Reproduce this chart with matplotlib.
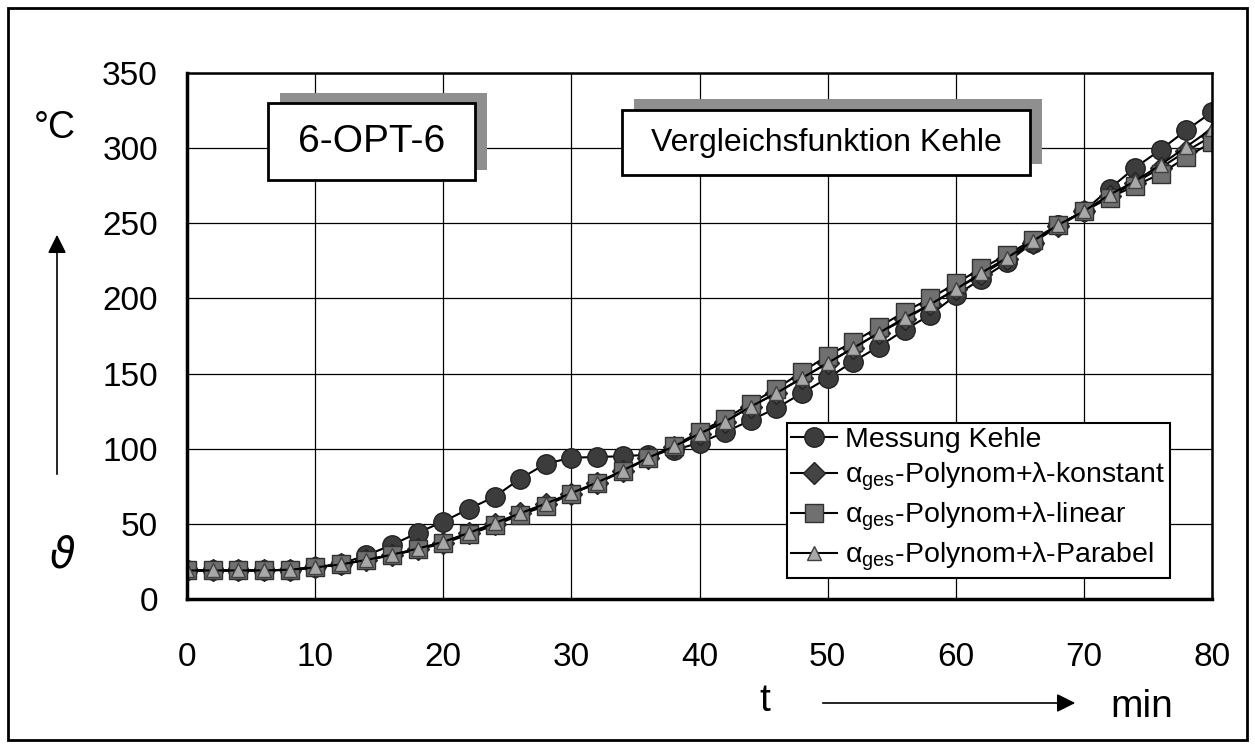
import matplotlib
matplotlib.use("Agg")
import matplotlib.pyplot as plt
from matplotlib.patches import Rectangle

plt.rcParams['font.family'] = ['Liberation Sans', 'DejaVu Sans']

# Zeit in min, Temperatur in °C
t = list(range(0, 82, 2))
messung = [19, 19, 19, 19, 19.5, 21, 23.5, 29, 36, 44, 51.5, 60, 68, 80, 90, 94, 94.5, 95, 96, 99,
           104, 111, 119, 127, 137, 147, 158, 168, 179, 189, 202, 213, 224, 237, 249, 258, 273, 287, 299, 312, 324]
konstant = [19, 19, 19, 19, 19.5, 21, 23, 26, 29.5, 33, 37.5, 44, 50, 57, 63, 70, 77, 85, 93.5, 101,
            110, 118, 128, 137, 147, 157, 167, 177, 186, 196, 206, 216, 226, 237, 248, 258, 268, 277, 287, 298, 308]
linear = [19, 19, 19, 19, 19.5, 21, 23, 26, 29, 33, 37, 43, 49, 56, 62, 70, 77, 85, 94, 102,
          111, 120, 130, 140, 151, 162, 171, 181, 191, 200, 210, 220, 229, 239, 249, 258, 267, 275, 283, 294, 304]
parabel = [19, 19, 19, 19, 19.5, 21, 23, 26, 29.5, 33.5, 38, 44, 50.5, 57, 63.5, 70.5, 77.5, 85.5, 94, 101.5,
           110, 118, 128, 137, 147, 157, 167, 177, 187, 196, 206, 217, 227, 238, 249, 258, 269, 278, 289, 301, 313]
labels = ['Messung Kehle',
          r'α$_{\mathregular{ges}}$-Polynom+λ-konstant',
          r'α$_{\mathregular{ges}}$-Polynom+λ-linear',
          r'α$_{\mathregular{ges}}$-Polynom+λ-Parabel']
xticks = [0, 10, 20, 30, 40, 50, 60, 70, 80]
yticks = [0, 50, 100, 150, 200, 250, 300, 350]

W, H = 1255, 747


def fx(px):
    return px / W


def fy(py):
    return 1 - py / H


def box(fig, x0, y0, x1, y1, dx, dy, text, size):
    # Schatten hinter dem Kasten
    fig.add_artist(Rectangle((fx(x0 + dx), fy(y1 + dy)), fx(x1 - x0), (y1 - y0) / H,
                             transform=fig.transFigure, facecolor='#8f8f8f', edgecolor='none', zorder=5))
    fig.add_artist(Rectangle((fx(x0), fy(y1)), fx(x1 - x0), (y1 - y0) / H,
                             transform=fig.transFigure, facecolor='white', edgecolor='black', lw=2, zorder=6))
    fig.text(fx((x0 + x1) / 2), fy((y0 + y1) / 2), text, fontsize=size, ha='center', va='center', zorder=7)


fig = plt.figure(figsize=(12.55, 7.47), dpi=100)
ax = fig.add_axes([fx(187), fy(599), fx(1212 - 187), (599 - 73) / H])

ax.plot(t, messung, '-o', color='black', lw=1.5, ms=14, mfc='#3c3c3c', mec='#222222', label=labels[0])
ax.plot(t, konstant, '-D', color='black', lw=1.5, ms=11, mfc='#444444', mec='#222222', label=labels[1])
ax.plot(t, linear, '-s', color='black', lw=1.5, ms=12.5, mfc='#707070', mec='#303030', label=labels[2])
ax.plot(t, parabel, '-^', color='black', lw=1.5, ms=9.5, mfc='#a8a8a8', mec='#404040', label=labels[3])

ax.set_xlim(0, 80)
ax.set_ylim(0, 350)
ax.set_xticks(xticks)
ax.set_yticks(yticks)
ax.tick_params(axis='x', length=0, pad=31, labelsize=24)
ax.tick_params(axis='y', length=0, pad=21, labelsize=24)
ax.grid(True, color='black', lw=0.9)
ax.set_axisbelow(True)
for s in ['left', 'bottom']:
    ax.spines[s].set_linewidth(2.5)
for s in ['top', 'right']:
    ax.spines[s].set_linewidth(1.8)

leg = ax.legend(loc='upper left', bbox_to_anchor=(fx(787), fy(423)), bbox_transform=fig.transFigure,
                fontsize=20.5, frameon=True, fancybox=False, edgecolor='black', framealpha=1,
                handlelength=1.6, handletextpad=0.3, labelspacing=0.26, borderpad=0.15, borderaxespad=0)
leg.get_frame().set_linewidth(1.5)

# Textkaesten
box(fig, 268, 103, 475, 180, 12, -10, '6-OPT-6', 28)
box(fig, 622, 110, 1030, 175, 12, -11, 'Vergleichsfunktion Kehle', 23)

# Achsbeschriftungen mit Pfeilen
fig.text(fx(55), fy(128), '°C', fontsize=27, ha='center', va='center')
fig.text(fx(62), fy(557), r'$\vartheta$', fontsize=30, ha='center', va='center')
fig.text(fx(765), fy(701), 't', fontsize=28, ha='center', va='center')
fig.text(fx(1110), fy(717), 'min', fontsize=28, ha='left', va='baseline')
fig.add_artist(plt.Annotation('', xy=(fx(57), fy(232)), xytext=(fx(57), fy(477)),
                              xycoords='figure fraction', textcoords='figure fraction',
                              arrowprops=dict(arrowstyle='-|>', color='black', lw=1.2, mutation_scale=28)))
fig.add_artist(plt.Annotation('', xy=(fx(1078), fy(703)), xytext=(fx(820), fy(703)),
                              xycoords='figure fraction', textcoords='figure fraction',
                              arrowprops=dict(arrowstyle='-|>', color='black', lw=1.2, mutation_scale=28)))

# Rahmen um die ganze Grafik
fig.add_artist(Rectangle((fx(8), fy(740)), fx(1247 - 8), (740 - 8) / H, transform=fig.transFigure,
                         facecolor='none', edgecolor='black', lw=2))

fig.savefig('out.png', dpi=100)
